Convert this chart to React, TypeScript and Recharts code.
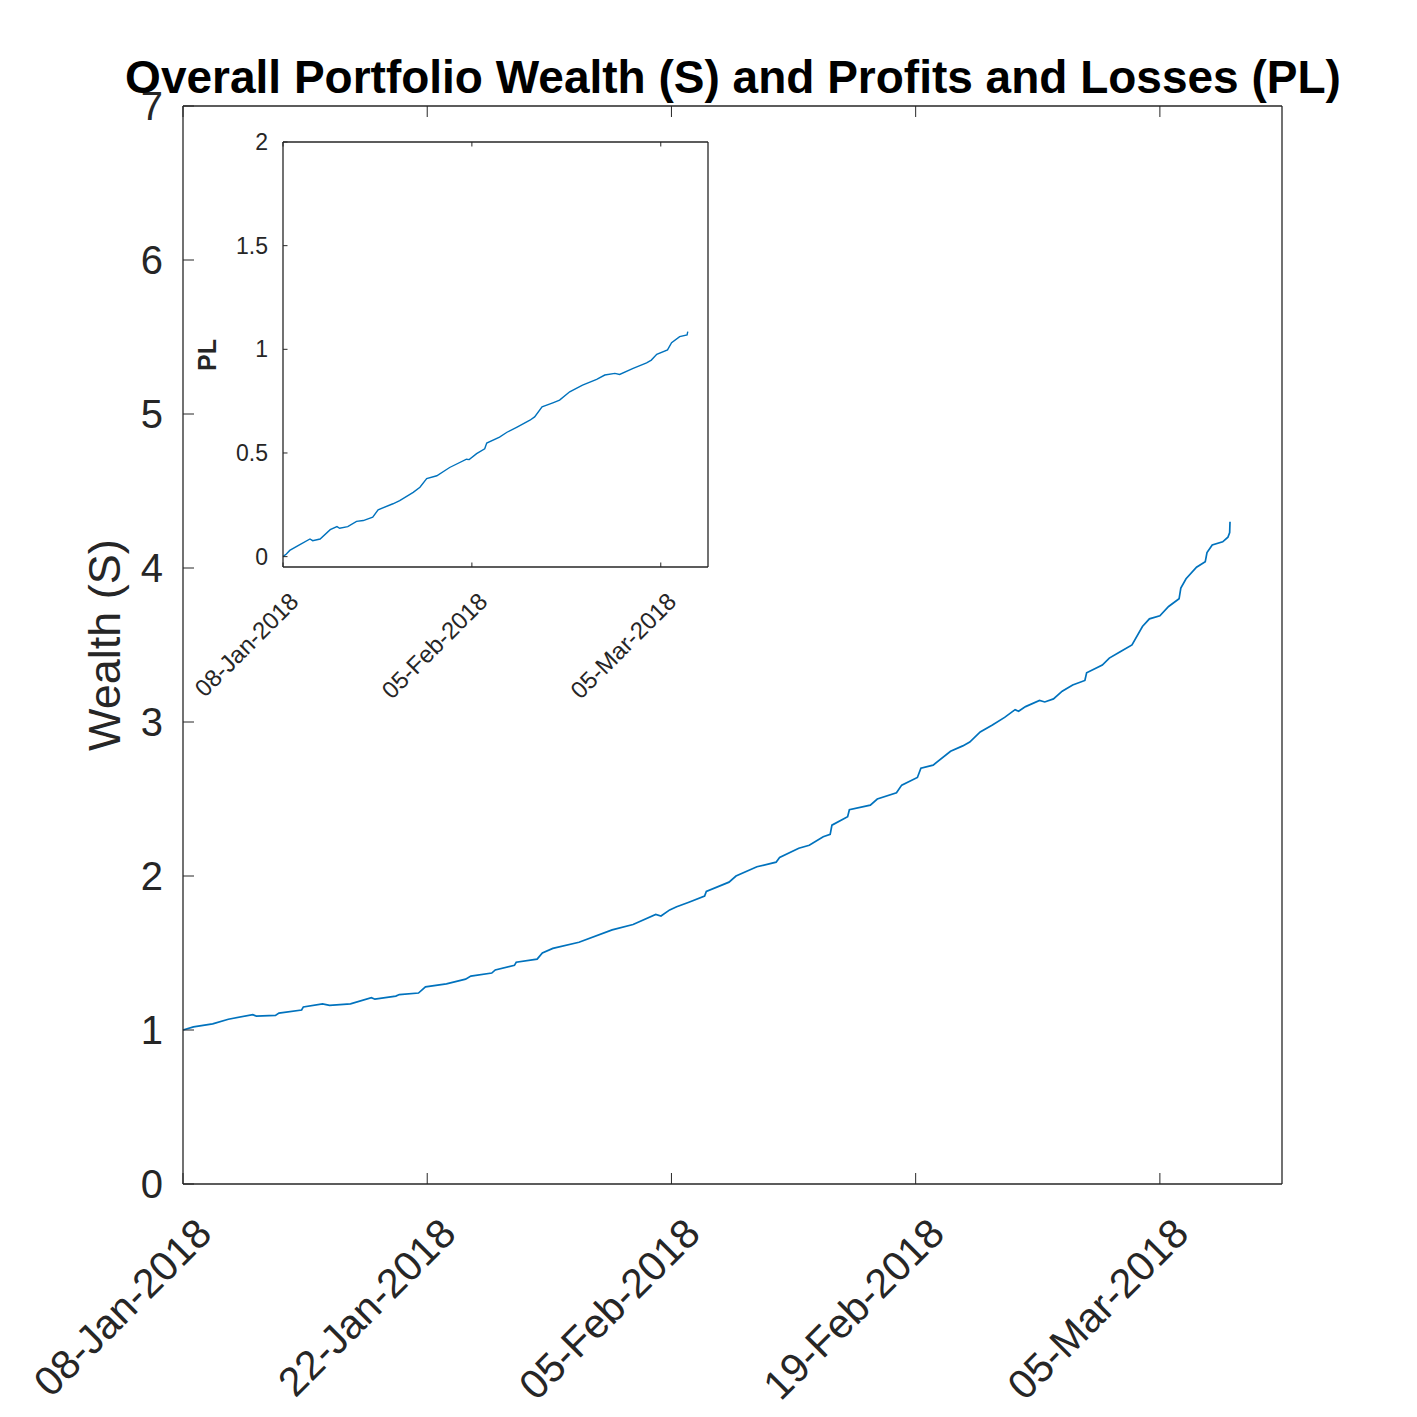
import React from 'react'
import { LineChart, Line, XAxis, YAxis } from 'recharts'

// days after 08-Jan-2018
const wealthDays = [
  0, 0.6, 1.7, 2.6, 4.0, 4.2, 5.3, 5.5, 6.8, 6.9, 8.0, 8.4, 9.6, 10.8, 11.0, 12.2, 12.4, 13.5, 13.9, 15.1,
  16.2, 16.5, 17.7, 17.9, 19.0, 19.1, 20.3, 20.6, 21.2, 22.7, 24.6, 25.8, 27.1, 27.4, 27.9, 28.3, 29.0, 29.9, 30.0, 31.3,
  31.7, 32.9, 34.0, 34.2, 35.3, 35.9, 36.7, 37.1, 37.2, 38.1, 38.2, 39.4, 39.8, 40.9, 41.2, 42.1, 42.3, 43.0, 44.0, 44.7,
  45.1, 45.7, 46.4, 47.1, 47.7, 47.9, 48.3, 49.1, 49.4, 49.9, 50.4, 51.0, 51.7, 51.8, 52.7, 53.1, 53.7, 54.4, 55.0, 55.4,
  56.0, 56.5, 57.1, 57.2, 57.5, 58.1, 58.6, 58.7, 59.0, 59.6, 59.9, 60.0, 60.02,
]
const wealthValues = [
  1.0, 1.02, 1.04, 1.07, 1.1, 1.09, 1.095, 1.11, 1.13, 1.15, 1.17, 1.16, 1.17, 1.21, 1.2, 1.22, 1.23, 1.24, 1.28, 1.3,
  1.33, 1.35, 1.37, 1.39, 1.42, 1.44, 1.46, 1.5, 1.53, 1.57, 1.65, 1.685, 1.75, 1.74, 1.78, 1.8, 1.83, 1.87, 1.9, 1.96,
  2.0, 2.06, 2.09, 2.12, 2.18, 2.2, 2.255, 2.27, 2.33, 2.385, 2.43, 2.46, 2.5, 2.54, 2.59, 2.64, 2.7, 2.72, 2.81, 2.845,
  2.87, 2.935, 2.98, 3.03, 3.08, 3.07, 3.1, 3.14, 3.13, 3.15, 3.2, 3.24, 3.27, 3.32, 3.37, 3.415, 3.455, 3.5, 3.62, 3.67,
  3.69, 3.75, 3.8, 3.87, 3.93, 4.005, 4.04, 4.1, 4.15, 4.17, 4.2, 4.23, 4.3,
]

// inset: profits and losses
const plDays = [
  0, 0.5, 1.0, 2.5, 4.0, 4.4, 5.5, 7.0, 8.0, 8.4, 9.6, 10.9, 11.9, 13.3, 14.1, 16.3, 17.3, 19.3, 20.3, 21.3,
  22.8, 24.7, 27.2, 27.6, 28.7, 29.9, 30.2, 32.1, 33.2, 34.7, 36.6, 37.3, 38.4, 40.0, 41.0, 42.5, 44.4, 46.5, 47.7, 49.2,
  49.9, 51.9, 53.9, 54.6, 55.4, 57.0, 57.6, 58.8, 59.9, 60.0,
]
const plValues = [
  0.0, 0.013, 0.03, 0.058, 0.085, 0.077, 0.085, 0.13, 0.145, 0.137, 0.145, 0.17, 0.174, 0.19, 0.226, 0.255, 0.27, 0.31, 0.335, 0.376,
  0.39, 0.43, 0.47, 0.468, 0.497, 0.52, 0.548, 0.577, 0.6, 0.625, 0.658, 0.674, 0.722, 0.742, 0.755, 0.795, 0.827, 0.855, 0.876, 0.884,
  0.879, 0.908, 0.935, 0.948, 0.976, 0.997, 1.032, 1.061, 1.07, 1.085,
]

const mainDateTicks = [0, 14, 28, 42, 56]
const insetDateTicks = [0, 28, 56]
const wealthTicks = [0, 1, 2, 3, 4, 5, 6, 7]
const plTicks = [0, 0.5, 1, 1.5, 2]

const MONTHS = ['Jan', 'Feb', 'Mar', 'Apr', 'May', 'Jun', 'Jul', 'Aug', 'Sep', 'Oct', 'Nov', 'Dec']
const dayLabel = (d: number) => {
  const dt = new Date(Date.UTC(2018, 0, 8 + d))
  return `${String(dt.getUTCDate()).padStart(2, '0')}-${MONTHS[dt.getUTCMonth()]}-${dt.getUTCFullYear()}`
}

const AXIS = '#262626'
const LINE = '#0072BD'
const FONT = '"Liberation Sans", Arial, Helvetica, sans-serif'

const wealthData = wealthDays.map((d, i) => ({ d, s: wealthValues[i] }))
const plData = plDays.map((d, i) => ({ d, pl: plValues[i] }))

// tick renderers: MATLAB style inward tick marks
const bottomTick = (len: number, fs: number, dx: number, dy: number) => (props: any) => {
  const { x, y, payload } = props
  const tx = x + dx
  const ty = y + dy
  return (
    <g>
      <line x1={x} y1={y} x2={x} y2={y - len} stroke={AXIS} strokeWidth={1} />
      <text x={tx} y={ty} transform={`rotate(-45 ${tx} ${ty})`} textAnchor="end" dominantBaseline="central"
        fontSize={fs} fontFamily={FONT} fill={AXIS}>{dayLabel(payload.value)}</text>
    </g>
  )
}
const topTick = (len: number) => (props: any) => {
  const { x, y } = props
  return <line x1={x} y1={y} x2={x} y2={y + len} stroke={AXIS} strokeWidth={1} />
}
const leftTick = (len: number, fs: number, gap: number) => (props: any) => {
  const { x, y, payload } = props
  return (
    <g>
      <line x1={x} y1={y} x2={x + len} y2={y} stroke={AXIS} strokeWidth={1} />
      <text x={x - gap} y={y} textAnchor="end" dominantBaseline="central" fontSize={fs} fontFamily={FONT} fill={AXIS}>
        {String(payload.value)}
      </text>
    </g>
  )
}
const rightTick = (len: number) => (props: any) => {
  const { x, y } = props
  return <line x1={x} y1={y} x2={x - len} y2={y} stroke={AXIS} strokeWidth={1} />
}

const axisCommon = { tickLine: false, tickSize: 0, tickMargin: 0, interval: 0 as const }

const App: React.FC = () => {
  return (
    <div style={{ position: 'absolute', left: 0, top: 0, width: 1417, height: 1417, background: '#fff' }}>
      <div style={{ position: 'absolute', left: 0, top: 0 }}>
        <LineChart width={1417} height={1417} data={wealthData} margin={{ top: 46, right: 75, bottom: 173, left: 123 }}>
          <XAxis xAxisId="b" dataKey="d" type="number" domain={[0, 63]} ticks={mainDateTicks} height={60}
            axisLine={{ stroke: AXIS, strokeWidth: 1.3 }} tick={bottomTick(11, 41, 21, 42)} {...axisCommon} />
          <XAxis xAxisId="t" orientation="top" dataKey="d" type="number" domain={[0, 63]} ticks={mainDateTicks} height={60}
            axisLine={{ stroke: AXIS, strokeWidth: 1.3 }} tick={topTick(11)} {...axisCommon} />
          <YAxis yAxisId="l" type="number" domain={[0, 7]} ticks={wealthTicks} width={60}
            axisLine={{ stroke: AXIS, strokeWidth: 1.3 }} tick={leftTick(11, 40, 20)} {...axisCommon} />
          <YAxis yAxisId="r" orientation="right" type="number" domain={[0, 7]} ticks={wealthTicks} width={60}
            axisLine={{ stroke: AXIS, strokeWidth: 1.3 }} tick={rightTick(11)} {...axisCommon} />
          <Line xAxisId="b" yAxisId="l" type="linear" dataKey="s" stroke={LINE} strokeWidth={1.7} dot={false}
            isAnimationActive={false} />
        </LineChart>
      </div>
      <div style={{ position: 'absolute', left: 180, top: 100 }}>
        <LineChart width={560} height={640} data={plData} margin={{ top: 22, right: 12, bottom: 133, left: 63 }}>
          <XAxis xAxisId="b" dataKey="d" type="number" domain={[0, 63]} ticks={insetDateTicks} height={40}
            axisLine={{ stroke: AXIS, strokeWidth: 1.3 }} tick={bottomTick(4.5, 24, 11, 30)} {...axisCommon} />
          <XAxis xAxisId="t" orientation="top" dataKey="d" type="number" domain={[0, 63]} ticks={insetDateTicks} height={20}
            axisLine={{ stroke: AXIS, strokeWidth: 1.3 }} tick={topTick(4.5)} {...axisCommon} />
          <YAxis yAxisId="l" type="number" domain={[-0.05, 2]} ticks={plTicks} width={40}
            axisLine={{ stroke: AXIS, strokeWidth: 1.3 }} tick={leftTick(4.5, 23, 15)} {...axisCommon} />
          <YAxis yAxisId="r" orientation="right" type="number" domain={[-0.05, 2]} ticks={plTicks} width={20}
            axisLine={{ stroke: AXIS, strokeWidth: 1.3 }} tick={rightTick(4.5)} {...axisCommon} />
          <Line xAxisId="b" yAxisId="l" type="linear" dataKey="pl" stroke={LINE} strokeWidth={1.4} dot={false}
            isAnimationActive={false} />
        </LineChart>
      </div>
      <svg width={1417} height={1417} style={{ position: 'absolute', left: 0, top: 0, pointerEvents: 'none' }}>
        <text x={733} y={93} textAnchor="middle" fontSize={46} fontWeight="bold" fontFamily={FONT} fill="#000">
          Overall Portfolio Wealth (S) and Profits and Losses (PL)
        </text>
        <text x={120} y={645} transform="rotate(-90 120 645)" textAnchor="middle" fontSize={45} fontFamily={FONT} fill={AXIS}>
          Wealth (S)
        </text>
        <text x={216} y={355} transform="rotate(-90 216 355)" textAnchor="middle" fontSize={25} fontWeight="bold"
          fontFamily={FONT} fill={AXIS}>
          PL
        </text>
      </svg>
    </div>
  )
}

export default App
